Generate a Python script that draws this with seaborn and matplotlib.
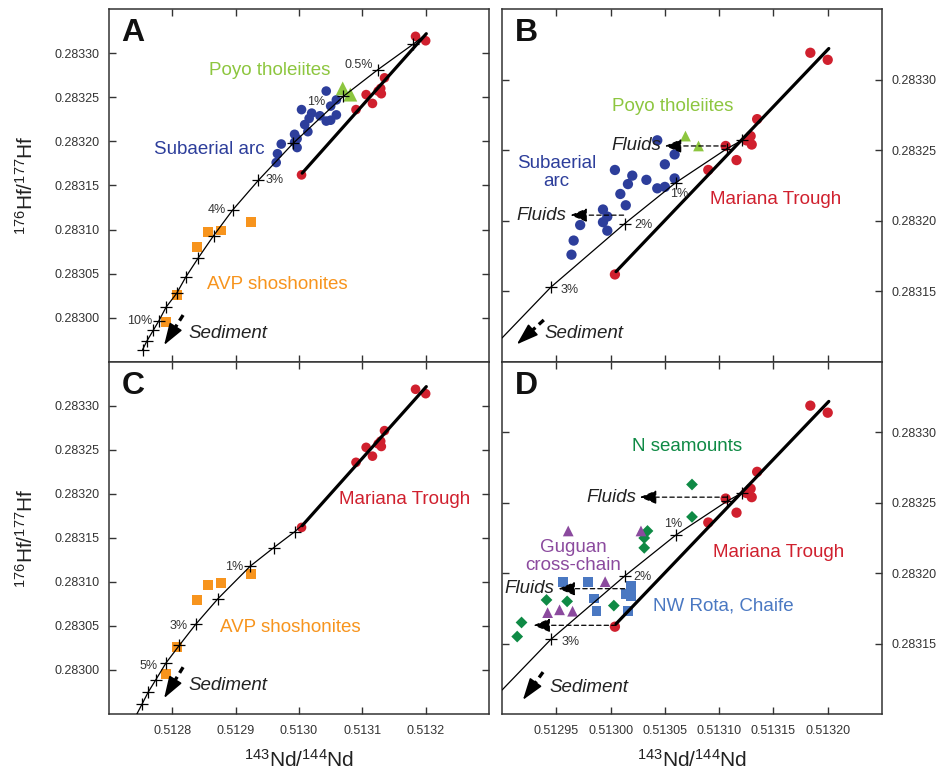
import numpy as np
import pandas as pd
import matplotlib.pyplot as plt
import seaborn as sns

# ESTILO
sns.set_style('ticks')
plt.rcParams['font.family'] = ['Liberation Sans', 'DejaVu Sans']
plt.rcParams['mathtext.default'] = 'regular'
plt.rcParams['axes.linewidth'] = 1.1
plt.rcParams['axes.edgecolor'] = '#333333'

# DADOS
# Mariana Trough
mt_nd = [0.513184, 0.513200, 0.513135, 0.513129, 0.513130, 0.513125, 0.513106, 0.513116, 0.513090, 0.513004]
mt_hf = [0.283319, 0.283314, 0.283272, 0.283260, 0.283254, 0.283257, 0.283253, 0.283243, 0.283236, 0.283162]
mt_line_nd = [0.513005, 0.513201]
mt_line_hf = [0.283164, 0.283322]

# Subaerial arc
arc_nd = [0.513043, 0.513059, 0.513050, 0.513004, 0.513020, 0.513033, 0.513059, 0.513016, 0.513043,
          0.513050, 0.513009, 0.513014, 0.512993, 0.512997, 0.512993, 0.512972, 0.512997, 0.512966, 0.512964]
arc_hf = [0.283257, 0.283247, 0.283240, 0.283236, 0.283232, 0.283229, 0.283230, 0.283226, 0.283223,
          0.283224, 0.283219, 0.283211, 0.283208, 0.283203, 0.283199, 0.283197, 0.283193, 0.283186, 0.283176]

# Poyo tholeiites
poyo_nd = [0.513069, 0.513081]
poyo_hf = [0.283260, 0.283253]

# AVP shoshonites
avp_nd = [0.512790, 0.512807, 0.512839, 0.512856, 0.512877, 0.512924]
avp_hf = [0.282995, 0.283026, 0.283080, 0.283097, 0.283099, 0.283109]

# N seamounts
nsea_nd = [0.513075, 0.513075, 0.513034, 0.513031, 0.513031, 0.512941, 0.512960, 0.513003, 0.512918, 0.512914]
nsea_hf = [0.283263, 0.283240, 0.283230, 0.283225, 0.283218, 0.283181, 0.283180, 0.283177, 0.283165, 0.283155]

# Guguan cross-chain
gug_nd = [0.512961, 0.513028, 0.512995, 0.512942, 0.512953, 0.512965]
gug_hf = [0.283230, 0.283230, 0.283194, 0.283172, 0.283174, 0.283173]

# NW Rota, Chaife
rota_nd = [0.512956, 0.512979, 0.512985, 0.512987, 0.513019, 0.513014, 0.513019, 0.513016]
rota_hf = [0.283194, 0.283194, 0.283182, 0.283173, 0.283191, 0.283185, 0.283184, 0.283173]

# curvas de mistura
mixA_nd = [0.512753, 0.512760, 0.512770, 0.512779, 0.512790, 0.512807, 0.512821, 0.512841, 0.512865,
           0.512895, 0.512936, 0.512991, 0.513070, 0.513124, 0.513180, 0.513196]
mixA_hf = [0.282964, 0.282974, 0.282986, 0.282997, 0.283012, 0.283028, 0.283046, 0.283068, 0.283093,
           0.283122, 0.283156, 0.283198, 0.283251, 0.283281, 0.283310, 0.283319]
mixC_nd = [0.512744, 0.512752, 0.512762, 0.512774, 0.512790, 0.512811, 0.512837, 0.512872, 0.512923,
           0.512960, 0.512993, 0.513004]
mixC_hf = [0.282950, 0.282961, 0.282975, 0.282989, 0.283008, 0.283028, 0.283052, 0.283081, 0.283118,
           0.283139, 0.283157, 0.283164]
mixB_nd = [0.512900, 0.512945, 0.513013, 0.513060, 0.513107, 0.513121]
mixB_hf = [0.283117, 0.283153, 0.283198, 0.283227, 0.283251, 0.283257]

# rotulos de porcentagem (texto, nd, hf)
pctA = [('0.5%', 0.513094, 0.283287), ('1%', 0.513027, 0.283245), ('3%', 0.512962, 0.283156),
        ('4%', 0.512870, 0.283122), ('10%', 0.512749, 0.282996)]
pctC = [('1%', 0.512897, 0.283117), ('3%', 0.512810, 0.283050), ('5%', 0.512763, 0.283005)]
pctB = [('1%', 0.513063, 0.283219), ('2%', 0.513030, 0.283197), ('3%', 0.512962, 0.283151)]
pctD = [('1%', 0.513058, 0.283235), ('2%', 0.513029, 0.283197), ('3%', 0.512963, 0.283151)]

# setas de fluidos (inicio nd, ponta nd, hf, texto)
fluidsB = [(0.513106, 0.513050, 0.283253, 'Fluids'), (0.513012, 0.512963, 0.283204, 'Fluids')]
fluidsD = [(0.513107, 0.513027, 0.283254, 'Fluids'), (0.513013, 0.512952, 0.283189, 'Fluids'),
           (0.513005, 0.512929, 0.283163, '')]

# ticks
xt_left = [0.5128, 0.5129, 0.5130, 0.5131, 0.5132]
yt_left = [0.28300, 0.28305, 0.28310, 0.28315, 0.28320, 0.28325, 0.28330]
xt_right = [0.51295, 0.51300, 0.51305, 0.51310, 0.51315, 0.51320]
yt_right = [0.28315, 0.28320, 0.28325, 0.28330]

RED = '#D0202E'
BLUE = '#2D3E9B'
LGREEN = '#8DC63F'
ORANGE = '#F7941D'
DGREEN = '#0F8A45'
PURPLE = '#8B4A9E'
MBLUE = '#4A78C2'
TXT = '#333333'

fig = plt.figure(figsize=(9.37, 7.74), dpi=100)
axA = fig.add_axes([109/937, 1-362/774, 380/937, 353/774])
axB = fig.add_axes([502/937, 1-362/774, 380/937, 353/774])
axC = fig.add_axes([109/937, 1-714/774, 380/937, 352/774])
axD = fig.add_axes([502/937, 1-714/774, 380/937, 352/774])


def pontos(ax, x, y, marker, s, color):
    sns.scatterplot(x=x, y=y, marker=marker, s=s, color=color, edgecolor='none', linewidth=0, ax=ax, zorder=3)


def curva(ax, x, y, lw=0.9, cruzes=None):
    sns.lineplot(x=x, y=y, sort=False, estimator=None, color='k', lw=lw, ax=ax, zorder=4)
    if cruzes is not None:
        ax.plot([x[i] for i in cruzes], [y[i] for i in cruzes], ls='none', marker='+',
                ms=9, mew=0.9, color='k', zorder=4)


def sedimento(ax, tail, tip, txt_xy):
    mid = (tip[0] + 0.5 * (tail[0] - tip[0]), tip[1] + 0.5 * (tail[1] - tip[1]))
    ax.plot([tail[0], mid[0]], [tail[1], mid[1]], transform=ax.transAxes, color='k',
            lw=2.4, ls=(0, (2.0, 1.4)), zorder=5)
    ax.annotate('', xy=tip, xytext=mid, xycoords='axes fraction', textcoords='axes fraction',
                arrowprops=dict(arrowstyle='-|>,head_length=0.9,head_width=0.3', color='k',
                                lw=1.2, shrinkA=0, shrinkB=0, mutation_scale=15))
    ax.text(txt_xy[0], txt_xy[1], 'Sediment', transform=ax.transAxes, fontsize=13.5,
            style='italic', ha='left', va='center', color='#222222')


def fluidos(ax, lista):
    for x0, x1, y, t in lista:
        ax.annotate('', xy=(x1, y), xytext=(x0, y),
                    arrowprops=dict(arrowstyle='-|>,head_length=0.6,head_width=0.25', color='k', lw=0.9,
                                    ls=(0, (3.5, 2.5)), shrinkA=0, shrinkB=0, mutation_scale=17), zorder=5)
        if t:
            ax.text(x1 - 0.0000035, y, t, fontsize=13.5, style='italic', ha='right', va='center',
                    color='#222222')


def estilo(ax, lado, baixo, letra):
    if lado == 'left':
        ax.set_xlim(0.5127, 0.5133)
        ax.set_ylim(0.28295, 0.28335)
        ax.set_xticks(xt_left)
        ax.set_xticklabels([f'{v:.4f}' for v in xt_left])
        ax.set_yticks(yt_left)
        ax.set_yticklabels([f'{v:.5f}' for v in yt_left])
        ax.tick_params(axis='y', left=True, right=True, labelleft=True, labelright=False)
    else:
        ax.set_xlim(0.51290, 0.51325)
        ax.set_ylim(0.28310, 0.28335)
        ax.set_xticks(xt_right)
        ax.set_xticklabels([f'{v:.5f}' for v in xt_right])
        ax.set_yticks(yt_right)
        ax.set_yticklabels([f'{v:.5f}' for v in yt_right])
        ax.tick_params(axis='y', left=True, right=True, labelleft=False, labelright=True)
    ax.tick_params(axis='x', top=True, bottom=True, labelbottom=baixo, labeltop=False, pad=8)
    ax.tick_params(axis='y', pad=6.5)
    ax.tick_params(direction='in', length=5, width=1, labelsize=9, labelcolor=TXT, color='#333333')
    ax.set_xlabel('')
    ax.set_ylabel('')
    ax.text(0.033, 0.975, letra, transform=ax.transAxes, fontsize=23, fontweight='bold',
            ha='left', va='top', color='#111111')


def pct(ax, lista):
    for t, x, y in lista:
        ax.text(x, y, t, fontsize=9, color=TXT, ha='center', va='center', zorder=6)


# PAINEL A
curva(axA, mixA_nd, mixA_hf, cruzes=list(range(0, 15)))
curva(axA, mt_line_nd, mt_line_hf, lw=2.3)
pontos(axA, arc_nd, arc_hf, 'o', 48, BLUE)
pontos(axA, mt_nd, mt_hf, 'o', 48, RED)
pontos(axA, avp_nd, avp_hf, 's', 50, ORANGE)
pontos(axA, poyo_nd, poyo_hf, '^', 100, LGREEN)
pct(axA, pctA)
axA.text(0.512953, 0.283280, 'Poyo tholeiites', color=LGREEN, fontsize=13.5, ha='center', va='center')
axA.text(0.512858, 0.283191, 'Subaerial arc', color=BLUE, fontsize=13.5, ha='center', va='center')
axA.text(0.512966, 0.283038, 'AVP shoshonites', color=ORANGE, fontsize=13.5, ha='center', va='center')
sedimento(axA, (0.195, 0.133), (0.145, 0.048), (0.208, 0.082))
estilo(axA, 'left', False, 'A')

# PAINEL C
curva(axC, mixC_nd, mixC_hf, cruzes=list(range(1, 11)))
curva(axC, mt_line_nd, mt_line_hf, lw=2.3)
pontos(axC, mt_nd, mt_hf, 'o', 48, RED)
pontos(axC, avp_nd, avp_hf, 's', 50, ORANGE)
pct(axC, pctC)
axC.text(0.513167, 0.283194, 'Mariana Trough', color=RED, fontsize=13.5, ha='center', va='center')
axC.text(0.512986, 0.283048, 'AVP shoshonites', color=ORANGE, fontsize=13.5, ha='center', va='center')
sedimento(axC, (0.195, 0.133), (0.145, 0.045), (0.208, 0.082))
estilo(axC, 'left', True, 'C')

# PAINEL B
curva(axB, mixB_nd, mixB_hf, cruzes=[1, 2, 3, 4, 5])
curva(axB, mt_line_nd, mt_line_hf, lw=2.3)
pontos(axB, arc_nd, arc_hf, 'o', 55, BLUE)
pontos(axB, mt_nd, mt_hf, 'o', 55, RED)
pontos(axB, poyo_nd, poyo_hf, '^', 60, LGREEN)
fluidos(axB, fluidsB)
pct(axB, pctB)
axB.text(0.513057, 0.283281, 'Poyo tholeiites', color=LGREEN, fontsize=13.5, ha='center', va='center')
axB.text(0.512950, 0.283234, 'Subaerial\narc', color=BLUE, fontsize=13.5, ha='center', va='center',
         linespacing=1.05)
axB.text(0.513152, 0.283215, 'Mariana Trough', color=RED, fontsize=13.5, ha='center', va='center')
sedimento(axB, (0.11, 0.119), (0.039, 0.05), (0.113, 0.082))
estilo(axB, 'right', False, 'B')

# PAINEL D
curva(axD, mixB_nd, mixB_hf, cruzes=[1, 2, 3, 4, 5])
curva(axD, mt_line_nd, mt_line_hf, lw=2.3)
pontos(axD, mt_nd, mt_hf, 'o', 55, RED)
pontos(axD, nsea_nd, nsea_hf, 'D', 36, DGREEN)
pontos(axD, gug_nd, gug_hf, '^', 60, PURPLE)
pontos(axD, rota_nd, rota_hf, 's', 50, MBLUE)
fluidos(axD, fluidsD)
pct(axD, pctD)
axD.text(0.513070, 0.283290, 'N seamounts', color=DGREEN, fontsize=13.5, ha='center', va='center')
axD.text(0.512966, 0.283212, 'Guguan\ncross-chain', color=PURPLE, fontsize=13.5, ha='center', va='center',
         linespacing=1.05)
axD.text(0.513155, 0.283215, 'Mariana Trough', color=RED, fontsize=13.5, ha='center', va='center')
axD.text(0.513104, 0.283177, 'NW Rota, Chaife', color=MBLUE, fontsize=13.5, ha='center', va='center')
sedimento(axD, (0.108, 0.119), (0.055, 0.04), (0.124, 0.074))
estilo(axD, 'right', True, 'D')

# rotulos dos eixos
for ax in [axA, axC]:
    ax.set_ylabel('$^{176}$Hf/$^{177}$Hf', fontsize=15, color='#222222')
    ax.yaxis.set_label_coords(-0.19, 0.5)
for ax in [axC, axD]:
    ax.set_xlabel('$^{143}$Nd/$^{144}$Nd', fontsize=15, color='#222222')
    ax.xaxis.set_label_coords(0.5, -0.1)

plt.savefig('out.png', dpi=100)
